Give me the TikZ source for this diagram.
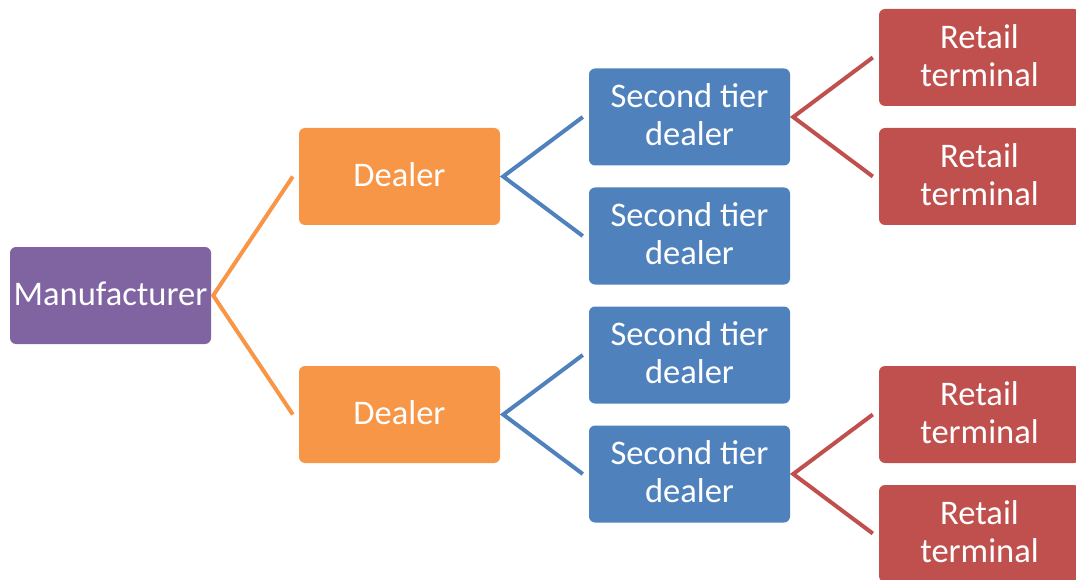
\documentclass[tikz,border=0pt]{standalone}
\usepackage{fontspec}
\setmainfont{Carlito}
\definecolor{cPurple}{HTML}{8064A2}
\definecolor{cOrange}{HTML}{F79646}
\definecolor{cBlue}{HTML}{4F81BD}
\definecolor{cRed}{HTML}{C0504D}
\tikzset{
  box/.style={rounded corners=6pt, minimum width=201pt, minimum height=97pt,
    inner sep=0pt, text=white, align=center,
    font=\fontsize{34.5}{38}\selectfont,
    execute at end node={\rule[-4pt]{0pt}{4pt}}},
  link/.style={line width=4pt, line join=miter},
}
\begin{document}
\begin{tikzpicture}[x=1pt, y=-1pt]
\useasboundingbox (0,0) rectangle (1076,580);
% level 0
\node[box, fill=cPurple] (man) at (110.5,295.5) {Manufacturer};
% level 1
\node[box, fill=cOrange] (d1) at (399.5,176.5) {Dealer};
\node[box, fill=cOrange] (d2) at (399.5,414.5) {Dealer};
% level 2
\node[box, fill=cBlue] (s1) at (689.5,117) {Second tier\\dealer};
\node[box, fill=cBlue] (s2) at (689.5,236) {Second tier\\dealer};
\node[box, fill=cBlue] (s3) at (689.5,355) {Second tier\\dealer};
\node[box, fill=cBlue] (s4) at (689.5,474) {Second tier\\dealer};
% level 3
\node[box, fill=cRed] (r1) at (979.5,57.5) {Retail\\terminal};
\node[box, fill=cRed] (r2) at (979.5,176.5) {Retail\\terminal};
\node[box, fill=cRed] (r3) at (979.5,414.5) {Retail\\terminal};
\node[box, fill=cRed] (r4) at (979.5,533.5) {Retail\\terminal};
% bracket connectors
\draw[link, cOrange] ([xshift=-6pt]d1.west) -- ([xshift=2pt]man.east) -- ([xshift=-6pt]d2.west);
\draw[link, cBlue] ([xshift=-6pt]s1.west) -- ([xshift=3pt]d1.east) -- ([xshift=-6pt]s2.west);
\draw[link, cBlue] ([xshift=-6pt]s3.west) -- ([xshift=3pt]d2.east) -- ([xshift=-6pt]s4.west);
\draw[link, cRed] ([xshift=-6pt]r1.west) -- ([xshift=3pt]s1.east) -- ([xshift=-6pt]r2.west);
\draw[link, cRed] ([xshift=-6pt]r3.west) -- ([xshift=3pt]s4.east) -- ([xshift=-6pt]r4.west);
\end{tikzpicture}
\end{document}
